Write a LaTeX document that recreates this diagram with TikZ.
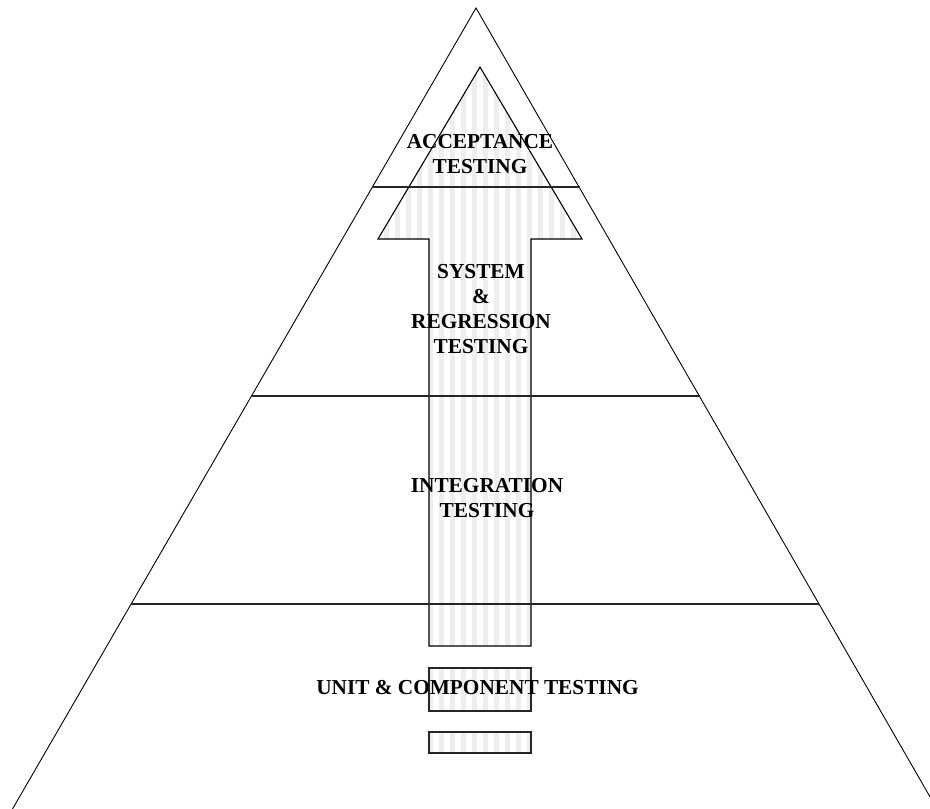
\documentclass[tikz,border=0pt]{standalone}
\usepackage{fontspec}
\setmainfont{Liberation Serif}
\definecolor{stripe}{RGB}{238,238,238}
\begin{document}
\begin{tikzpicture}[x=1pt,y=-1pt,
  side/.style={line width=0.9pt},
  level/.style={line width=1.6pt, black!85},
  outline/.style={line width=1.1pt},
  block/.style={line width=1.2pt, black!85},
  label/.style={font=\fontsize{21.3}{25}\selectfont\bfseries, align=center,
                anchor=base, inner sep=0pt}]
\useasboundingbox (0,0) rectangle (930,809);
\clip (0,0) rectangle (930,809);

% pyramid corners and level boundaries
\coordinate (apex) at (476,8);
\coordinate (bl) at (12.5,809);
\coordinate (br) at (937,809);
\coordinate (l1) at (372.4,187); \coordinate (r1) at (580,187);
\coordinate (l2) at (251.3,396); \coordinate (r2) at (699.5,396);
\coordinate (l3) at (131,604);   \coordinate (r3) at (819,604);

% upward arrow and the two blocks below it, striped
\begin{scope}
  \clip (480,67) -- (582,239) -- (531,239) -- (531,646) -- (429,646)
        -- (429,239) -- (378,239) -- cycle
        (429,668) rectangle (531,711)
        (429,732) rectangle (531,753);
  \foreach \k in {-6,...,13}
    \fill[stripe] ({439+11*\k},60) rectangle ++(5,700);
\end{scope}
\draw[outline] (480,67) -- (582,239) -- (531,239) -- (531,646) -- (429,646)
      -- (429,239) -- (378,239) -- cycle;
\draw[block] (429,668) rectangle (531,711);
\draw[block] (429,732) rectangle (531,753);

% pyramid outline and level lines
\draw[side] (bl) -- (apex) -- (br);
\draw[level] (l1) -- (r1);
\draw[level] (l2) -- (r2);
\draw[level] (l3) -- (r3);

% level labels (anchored at the baseline of the last line)
\node[label] (acc)  at (480,173) {ACCEPTANCE\\TESTING};
\node[label] (sys)  at (481,353) {SYSTEM\\\&\\REGRESSION\\TESTING};
\node[label] (intg) at (487,517) {INTEGRATION\\TESTING};
\node[label] (unit) at (477.5,694) {UNIT \& COMPONENT TESTING};
\end{tikzpicture}
\end{document}
